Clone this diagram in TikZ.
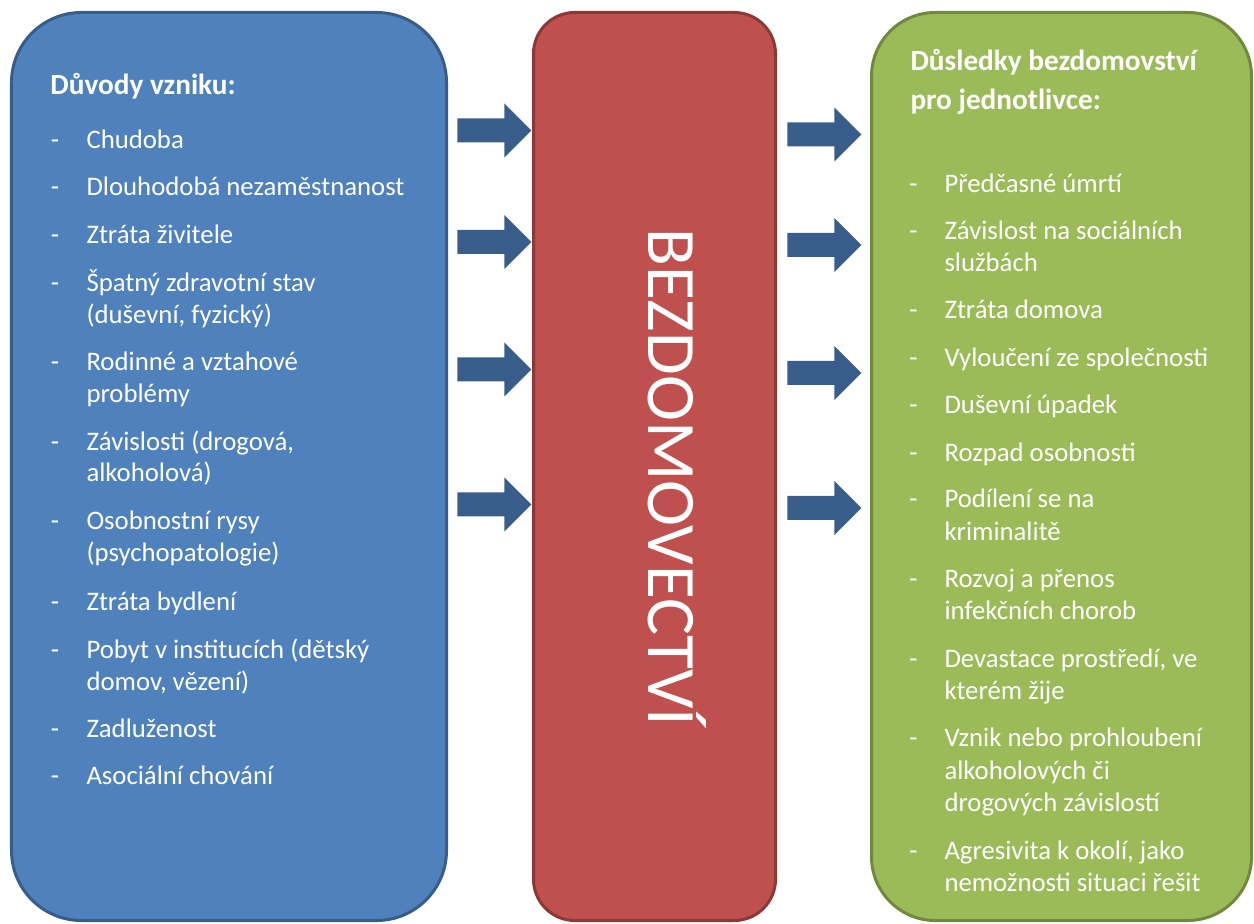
\documentclass[tikz,border=0pt]{standalone}
\usepackage{fontspec}
\setmainfont{Carlito}
\usepackage{tikz}
\usetikzlibrary{calc,shapes,positioning}

\definecolor{causefill}{HTML}{4F81BD}
\definecolor{causeline}{HTML}{385D8A}
\definecolor{homefill}{HTML}{C0504D}
\definecolor{homeline}{HTML}{8C3836}
\definecolor{effectfill}{HTML}{9BBB59}
\definecolor{effectline}{HTML}{71893F}
\definecolor{arrowblue}{HTML}{385D8A}

\begin{document}
\begin{tikzpicture}[x=0.4pt,y=-0.4pt]
      \tikzstyle{panel} = [rectangle, line width=1.2pt, inner sep=0pt, minimum height=363.2pt]
      \tikzstyle{itm} = [anchor=base west, inner sep=0pt, text=white, font=\fontsize{10.7}{12.8}\selectfont]
      \tikzstyle{ttl} = [itm, font=\fontsize{11.7}{14}\selectfont\bfseries]
      \tikzstyle{hyph} = [anchor=base, inner sep=0pt, text=white, font=\fontsize{10.7}{12.8}\selectfont]
      \tikzstyle{blk} = [single arrow, fill=arrowblue, anchor=tip, minimum height=29.6pt, inner xsep=0pt, inner ysep=4.6pt, single arrow head extend=6pt]

      \useasboundingbox (0,0) rectangle (1254,924);

      % the three panels
      \node[panel, fill=causefill, draw=causeline, minimum width=174pt, rounded corners=28pt] (causes) at (229,466.5) {};
      \node[panel, fill=homefill, draw=homeline, minimum width=96.8pt, rounded corners=16.5pt] (home) at (654.5,466.5) {};
      \node[panel, fill=effectfill, draw=effectline, minimum width=152pt, rounded corners=25.5pt] (effects) at (1061.5,466.5) {};

      \node[rotate=-90, anchor=base west, inner sep=0pt, text=white, font=\fontsize{27.8}{30}\selectfont] (homeless) at (648,228) {BEZDOMOVECTVÍ};

      % block arrows
      \foreach \y [count=\i] in {130.5,242,369.5,504.5}
        \node[blk] (in\i) at (532,\y) {};
      \foreach \y [count=\i] in {134.5,245,373,508}
        \node[blk] (out\i) at (862,\y) {};

      % causes
      \node[ttl] (ctitle) at (50,95) {Důvody vzniku:};
      \foreach \y/\t [count=\i] in {149/Chudoba, 196/Dlouhodobá nezaměstnanost, 244/Ztráta živitele,
          292/Špatný zdravotní stav, 323.5/{(duševní, fyzický)}, 371/Rodinné a vztahové, 403/problémy,
          451/{Závislosti (drogová,}, 482/alkoholová), 530/Osobnostní rysy, 562/(psychopatologie),
          610.5/Ztráta bydlení, 659/Pobyt v institucích (dětský, 690.5/{domov, vězení)},
          738/Zadluženost, 785/Asociální chování}
        \node[itm] (c\i) at (86,\y) {\t};
      \foreach \y [count=\i] in {149,196,244,292,371,451,530,610.5,659,738,785}
        \node[hyph] (cd\i) at (55,\y) {-};

      % effects
      \node[ttl] (etitle1) at (910,70.5) {Důsledky bezdomovství};
      \node[ttl] (etitle2) at (910,110) {pro jednotlivce:};
      \foreach \y/\t [count=\i] in {192.5/Předčasné úmrtí, 240/Závislost na sociálních, 271.5/službách,
          319/Ztráta domova, 366.5/Vyloučení ze společnosti, 413.5/Duševní úpadek, 461.5/Rozpad osobnosti,
          508/Podílení se na, 540.5/kriminalitě, 587.5/Rozvoj a přenos, 620/infekčních chorob,
          667.5/{Devastace prostředí, ve}, 700/kterém žije, 747/Vznik nebo prohloubení,
          779.5/alkoholových či, 811.5/drogových závislostí, 860/{Agresivita k okolí, jako},
          891.5/nemožnosti situaci řešit}
        \node[itm] (e\i) at (944,\y) {\t};
      \foreach \y [count=\i] in {192.5,240,319,366.5,413.5,461.5,508,587.5,667.5,747,860}
        \node[hyph] (ed\i) at (913.5,\y) {-};

    \end{tikzpicture}
\end{document}
